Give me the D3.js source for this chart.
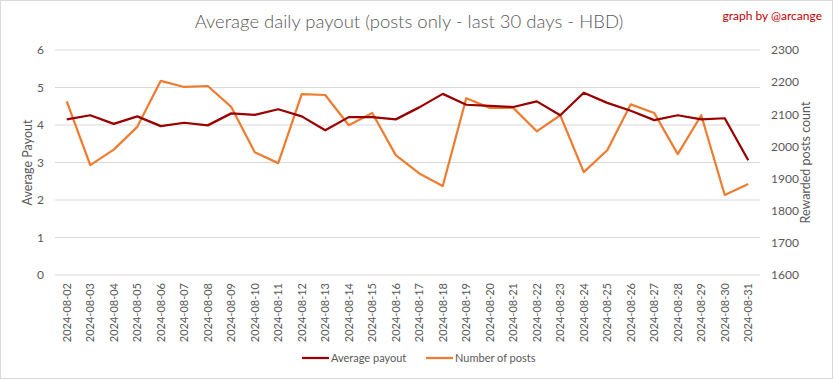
<!DOCTYPE html>
<html><head><meta charset="utf-8">
<script src="https://cdn.jsdelivr.net/npm/d3@7"></script>
<style>body{margin:0;background:#fff}svg{display:block}</style>
</head><body>
<svg id="c" width="833" height="379"></svg>
<script>
const dates = ["2024-08-02","2024-08-03","2024-08-04","2024-08-05","2024-08-06","2024-08-07","2024-08-08","2024-08-09","2024-08-10","2024-08-11","2024-08-12","2024-08-13","2024-08-14","2024-08-15","2024-08-16","2024-08-17","2024-08-18","2024-08-19","2024-08-20","2024-08-21","2024-08-22","2024-08-23","2024-08-24","2024-08-25","2024-08-26","2024-08-27","2024-08-28","2024-08-29","2024-08-30","2024-08-31"];
const avgPayout = [4.15,4.26,4.03,4.23,3.97,4.06,3.99,4.31,4.27,4.42,4.23,3.86,4.21,4.21,4.15,4.47,4.83,4.54,4.51,4.48,4.63,4.26,4.86,4.59,4.38,4.13,4.26,4.15,4.18,3.06];
const postCount = [2140,1942,1990,2061,2204,2185,2188,2123,1982,1948,2163,2160,2066,2104,1973,1916,1877,2150,2120,2120,2047,2097,1920,1988,2131,2104,1976,2097,1849,1883];
const leftTicks = [0,1,2,3,4,5,6];
const rightTicks = [1600,1700,1800,1900,2000,2100,2200,2300];

const font = "Lato, 'Open Sans', sans-serif";
const svg = d3.select("#c");
const W = 833, H = 379;
const m = {l:55, r:73, t:50, b:104};
const x = d3.scaleBand().domain(dates).range([m.l, W - m.r]);
const yL = d3.scaleLinear().domain([0,6]).range([H - m.b, m.t]);
const yR = d3.scaleLinear().domain([1600,2300]).range([H - m.b, m.t]);

svg.append("rect").attr("x",0.5).attr("y",0.5).attr("width",W-1).attr("height",H-1)
  .attr("fill","#fff").attr("stroke","#d9d9d9");

// gridlines
svg.append("g").selectAll("line").data(leftTicks).join("line")
  .attr("x1", m.l).attr("x2", W - m.r)
  .attr("y1", d => yL(d)).attr("y2", d => yL(d))
  .attr("stroke", "#d9d9d9").attr("stroke-width", 1);

// left axis
const gL = svg.append("g").attr("transform", `translate(${m.l},0)`)
  .call(d3.axisLeft(yL).tickValues(leftTicks).tickFormat(d3.format("d")).tickSize(0).tickPadding(11));
gL.select(".domain").remove();
gL.selectAll("text").attr("font-family", font).attr("font-size", 12).attr("fill", "#595959");

// right axis
const gR = svg.append("g").attr("transform", `translate(${W - m.r},0)`)
  .call(d3.axisRight(yR).tickValues(rightTicks).tickFormat(d3.format("d")).tickSize(0).tickPadding(11));
gR.select(".domain").remove();
gR.selectAll("text").attr("font-family", font).attr("font-size", 12).attr("fill", "#595959");

// x axis
const gX = svg.append("g").attr("transform", `translate(0,${H - m.b})`)
  .call(d3.axisBottom(x).tickSize(0).tickPadding(0));
gX.select(".domain").remove();
gX.selectAll("text").attr("font-family", font).attr("font-size", 11).attr("fill", "#595959")
  .attr("text-anchor", "end").attr("dy", "0.35em")
  .attr("transform", "translate(0,8) rotate(-90)").attr("x", 0).attr("y", 0);

// lines
const lineL = d3.line().x((d,i) => x(dates[i]) + x.bandwidth()/2).y(d => yL(d));
const lineR = d3.line().x((d,i) => x(dates[i]) + x.bandwidth()/2).y(d => yR(d));
svg.append("path").datum(postCount).attr("d", lineR).attr("fill","none")
  .attr("stroke","#ed7d31").attr("stroke-width",2.25).attr("stroke-linejoin","round");
svg.append("path").datum(avgPayout).attr("d", lineL).attr("fill","none")
  .attr("stroke","#990000").attr("stroke-width",2.25).attr("stroke-linejoin","round");

// title
svg.append("text").attr("x", 409).attr("y", 28).attr("text-anchor","middle")
  .attr("font-family", font).attr("font-size", 18.5).attr("font-weight", 300).attr("fill","#595959")
  .text("Average daily payout (posts only - last 30 days - HBD)");
svg.append("text").attr("x", 822).attr("y", 20).attr("text-anchor","end")
  .attr("font-family", font).attr("font-size", 12).attr("fill","#c00000")
  .text("graph by @arcange");

// axis titles
svg.append("text").attr("transform", `translate(32,${(yL(0)+yL(6))/2}) rotate(-90)`)
  .attr("text-anchor","middle").attr("font-family", font).attr("font-size", 12.5).attr("fill","#595959")
  .text("Average Payout");
svg.append("text").attr("transform", `translate(810,${(yL(0)+yL(6))/2}) rotate(-90)`)
  .attr("text-anchor","middle").attr("font-family", font).attr("font-size", 12.5).attr("fill","#595959")
  .text("Rewarded posts count");

// legend
const legend = [{name:"Average payout", color:"#990000", x:302},{name:"Number of posts", color:"#ed7d31", x:426}];
const lg = svg.append("g").selectAll("g").data(legend).join("g")
  .attr("transform", d => `translate(${d.x},358)`);
lg.append("line").attr("x1",0).attr("x2",27).attr("y1",0).attr("y2",0)
  .attr("stroke", d => d.color).attr("stroke-width", 2.25);
lg.append("text").attr("x", 29).attr("y", 0).attr("dy","0.35em")
  .attr("font-family", font).attr("font-size", 11).attr("fill","#595959").text(d => d.name);
</script>
</body></html>
